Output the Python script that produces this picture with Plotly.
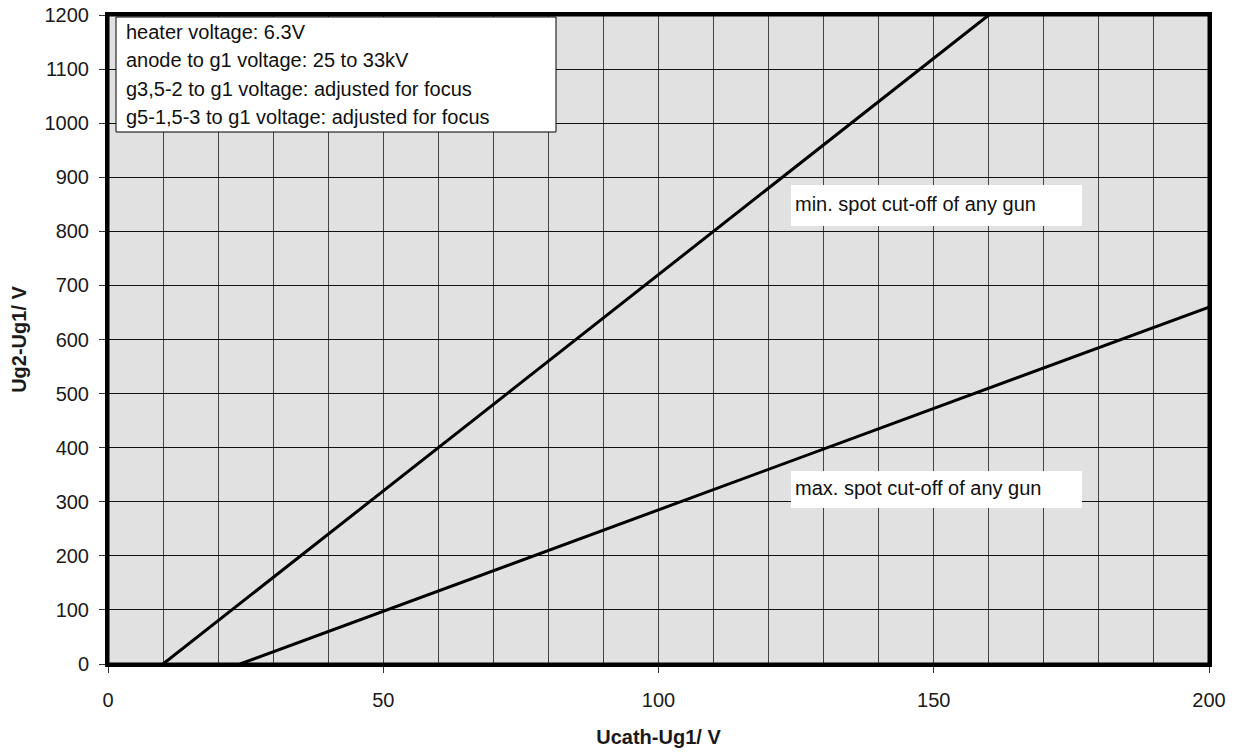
import plotly.graph_objects as go

# data
min_x = [10, 160]
min_y = [0, 1200]
max_x = [24, 200]
max_y = [0, 660]
x_ticks = [0, 50, 100, 150, 200]
y_ticks = list(range(0, 1201, 100))
info_lines = ["heater voltage: 6.3V", "anode to g1 voltage: 25 to 33kV",
              "g3,5-2 to g1 voltage: adjusted for focus",
              "g5-1,5-3 to g1 voltage: adjusted for focus"]
label_min = "min. spot cut-off of any gun"
label_max = "max. spot cut-off of any gun"

FONT = "Liberation Sans, Arial, sans-serif"
OFF = 8  # page body margin
L, R, T, B = 108 - OFF, 1209 - OFF, 15 - OFF, 664 - OFF
W, H = 1242 - OFF, 753 - OFF
pw, ph = R - L, B - T

def px(x):
    return (x - OFF - L) / pw

def py(y):
    return (B - (y - OFF)) / ph

fig = go.Figure()
for xs, ys in [(min_x, min_y), (max_x, max_y)]:
    fig.add_trace(go.Scatter(x=xs, y=ys, mode="lines",
                             line=dict(color="black", width=3),
                             showlegend=False, hoverinfo="skip", cliponaxis=False))

fig.update_layout(
    width=W, height=H,
    margin=dict(l=L, r=W - R, t=T, b=H - B),
    paper_bgcolor="white", plot_bgcolor="#e1e1e1",
    font=dict(family=FONT, size=20, color="#1a1a1a"),
    xaxis=dict(range=[0, 200], tickvals=x_ticks, showgrid=True,
               gridcolor="#444444", gridwidth=1, automargin=False,
               minor=dict(dtick=10, showgrid=True, gridcolor="#444444", gridwidth=1),
               showline=True, linecolor="black", linewidth=3, mirror=True,
               ticks="outside", ticklen=6, tickcolor="#333", tickwidth=1,
               ticklabelstandoff=10, zeroline=False, ticklabeloverflow="allow",
               title=dict(text="<b>Ucath-Ug1/ V</b>", font=dict(size=20), standoff=20)),
    yaxis=dict(range=[0, 1200], tickvals=y_ticks, showgrid=True,
               gridcolor="#111111", gridwidth=1, automargin=False,
               showline=True, linecolor="black", linewidth=3, mirror=True,
               ticks="outside", ticklen=6, tickcolor="#333", tickwidth=1,
               ticklabelstandoff=6, zeroline=False, ticklabeloverflow="allow",
               title=dict(text="<b>Ug2-Ug1/ V</b>", font=dict(size=20), standoff=14)),
)

# plot frame
fig.add_shape(type="rect", xref="paper", yref="paper", x0=0, x1=1, y0=0, y1=1,
              line=dict(color="black", width=3), fillcolor="rgba(0,0,0,0)", layer="above")

# boxes (pixel positions in the final screenshot)
boxes = [(116, 17, 556, 132, "black", 1),
         (791, 185, 1082, 226, "white", 0),
         (791, 471, 1082, 508, "white", 0)]
for x0, y0, x1, y1, lc, lw in boxes:
    fig.add_shape(type="rect", xref="paper", yref="paper",
                  x0=px(x0), x1=px(x1), y0=py(y1), y1=py(y0),
                  fillcolor="white", line=dict(color=lc, width=lw), layer="above")

for i, line in enumerate(info_lines):
    fig.add_annotation(xref="paper", yref="paper", x=px(124), y=py(32 + 28.3 * i),
                       xanchor="left", yanchor="middle", showarrow=False,
                       text=line, font=dict(size=20, color="#111"))
fig.add_annotation(xref="paper", yref="paper", x=px(793), y=py(204),
                   xanchor="left", yanchor="middle", showarrow=False,
                   text=label_min, font=dict(size=20, color="#111"))
fig.add_annotation(xref="paper", yref="paper", x=px(793), y=py(488),
                   xanchor="left", yanchor="middle", showarrow=False,
                   text=label_max, font=dict(size=20, color="#111"))

fig.write_html("out.html")
